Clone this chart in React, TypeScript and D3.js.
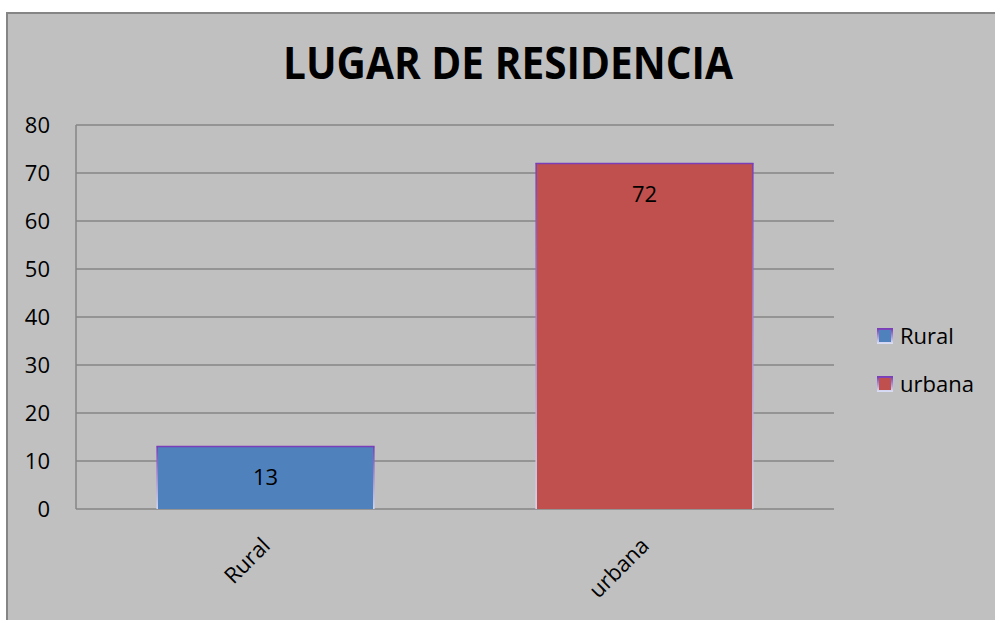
import React, { useEffect, useRef } from "react";
import * as d3 from "d3";

// chart data
const categories = ["Rural", "urbana"];
const values = [13, 72];
const barColors = ["#4f81bd", "#c0504d"];
const yTicks = [0, 10, 20, 30, 40, 50, 60, 70, 80];
const titleText = "LUGAR DE RESIDENCIA";

const W = 995;
const H = 620;
const FONT = "'Open Sans', 'Noto Sans', sans-serif";
const FS = 22;

function App() {
  const svgRef = useRef<SVGSVGElement>(null);

  useEffect(() => {
    const svg = d3.select(svgRef.current);
    svg.selectAll("*").remove();

    const plot = { left: 76, right: 834, top: 125, bottom: 509 };

    const x = d3
      .scaleBand()
      .domain(categories)
      .range([plot.left, plot.right])
      .paddingInner(0.427)
      .paddingOuter(0.2135);

    const y = d3.scaleLinear().domain([0, 80]).range([plot.bottom, plot.top]);

    // gradient for the bar outline (purple fading down)
    const defs = svg.append("defs");
    const g1 = defs
      .append("linearGradient")
      .attr("id", "edge")
      .attr("x1", 0)
      .attr("y1", 0)
      .attr("x2", 0)
      .attr("y2", 1);
    g1.append("stop").attr("offset", "0%").attr("stop-color", "#7a3fb8");
    g1.append("stop").attr("offset", "100%").attr("stop-color", "#d8dcf4");

    // panel
    svg
      .append("rect")
      .attr("x", 7)
      .attr("y", 13)
      .attr("width", W + 20)
      .attr("height", H + 20)
      .attr("fill", "#c0c0c0")
      .attr("stroke", "#858585")
      .attr("stroke-width", 2);

    // title
    svg
      .append("text")
      .attr("x", 508)
      .attr("y", 79)
      .attr("text-anchor", "middle")
      .attr("font-family", FONT)
      .attr("font-weight", "bold")
      .attr("font-size", 44)
      .attr("textLength", 450)
      .attr("lengthAdjust", "spacingAndGlyphs")
      .attr("fill", "#000")
      .text(titleText);

    // gridlines
    svg
      .append("g")
      .selectAll("line")
      .data(yTicks)
      .join("line")
      .attr("x1", plot.left)
      .attr("x2", plot.right)
      .attr("y1", (d) => y(d))
      .attr("y2", (d) => y(d))
      .attr("stroke", "#868686")
      .attr("stroke-width", 1.5);

    // y axis line
    svg
      .append("line")
      .attr("x1", plot.left)
      .attr("x2", plot.left)
      .attr("y1", plot.top)
      .attr("y2", plot.bottom)
      .attr("stroke", "#868686")
      .attr("stroke-width", 1.5);

    // y tick labels
    svg
      .append("g")
      .selectAll("text")
      .data(yTicks)
      .join("text")
      .attr("x", 50)
      .attr("y", (d) => y(d))
      .attr("dy", "0.35em")
      .attr("text-anchor", "end")
      .attr("font-family", FONT)
      .attr("font-size", FS)
      .attr("fill", "#000")
      .text((d) => d);

    // bars
    const bars = svg
      .append("g")
      .selectAll("g")
      .data(categories)
      .join("g");

    bars
      .append("rect")
      .attr("x", (d) => x(d)!)
      .attr("y", (d, i) => y(values[i]))
      .attr("width", x.bandwidth())
      .attr("height", (d, i) => plot.bottom - y(values[i]))
      .attr("fill", (d, i) => barColors[i]);

    // outline: sides with fading gradient, solid top
    bars
      .append("rect")
      .attr("x", (d) => x(d)! - 0.5)
      .attr("y", (d, i) => y(values[i]))
      .attr("width", 1.5)
      .attr("height", (d, i) => plot.bottom - y(values[i]))
      .attr("fill", "url(#edge)");
    bars
      .append("rect")
      .attr("x", (d) => x(d)! + x.bandwidth() - 1)
      .attr("y", (d, i) => y(values[i]))
      .attr("width", 1.5)
      .attr("height", (d, i) => plot.bottom - y(values[i]))
      .attr("fill", "url(#edge)");
    bars
      .append("line")
      .attr("x1", (d) => x(d)! - 0.5)
      .attr("x2", (d) => x(d)! + x.bandwidth() + 0.5)
      .attr("y1", (d, i) => y(values[i]))
      .attr("y2", (d, i) => y(values[i]))
      .attr("stroke", "#7a3fb8")
      .attr("stroke-width", 1.5);

    // value labels, inside end
    bars
      .append("text")
      .attr("x", (d) => x(d)! + x.bandwidth() / 2)
      .attr("y", (d, i) => y(values[i]) + 31)
      .attr("dy", "0.35em")
      .attr("text-anchor", "middle")
      .attr("font-family", FONT)
      .attr("font-size", FS)
      .attr("fill", "#000")
      .text((d, i) => values[i]);

    // category labels, rotated
    svg
      .append("g")
      .selectAll("text")
      .data(categories)
      .join("text")
      .attr("text-anchor", "end")
      .attr("font-family", FONT)
      .attr("font-size", FS)
      .attr("fill", "#000")
      .attr("transform", (d) => {
        const cx = x(d)! + x.bandwidth() / 2 + 6;
        return `translate(${cx},${plot.bottom + 38}) rotate(-45)`;
      })
      .text((d) => d);

    // legend
    const legend = svg
      .append("g")
      .selectAll("g")
      .data(categories)
      .join("g")
      .attr("transform", (d, i) => `translate(878,${329 + i * 48})`);

    legend
      .append("rect")
      .attr("width", 14)
      .attr("height", 14)
      .attr("fill", (d, i) => barColors[i])
      .attr("stroke", "url(#edge)")
      .attr("stroke-width", 2);

    legend
      .append("text")
      .attr("x", 22)
      .attr("y", 7)
      .attr("dy", "0.35em")
      .attr("font-family", FONT)
      .attr("font-size", FS)
      .attr("fill", "#000")
      .text((d) => d);
  }, []);

  return (
    <svg
      ref={svgRef}
      width={W}
      height={H}
      style={{ position: "absolute", left: 0, top: 0, display: "block", background: "#fff" }}
    />
  );
}

export default App;
